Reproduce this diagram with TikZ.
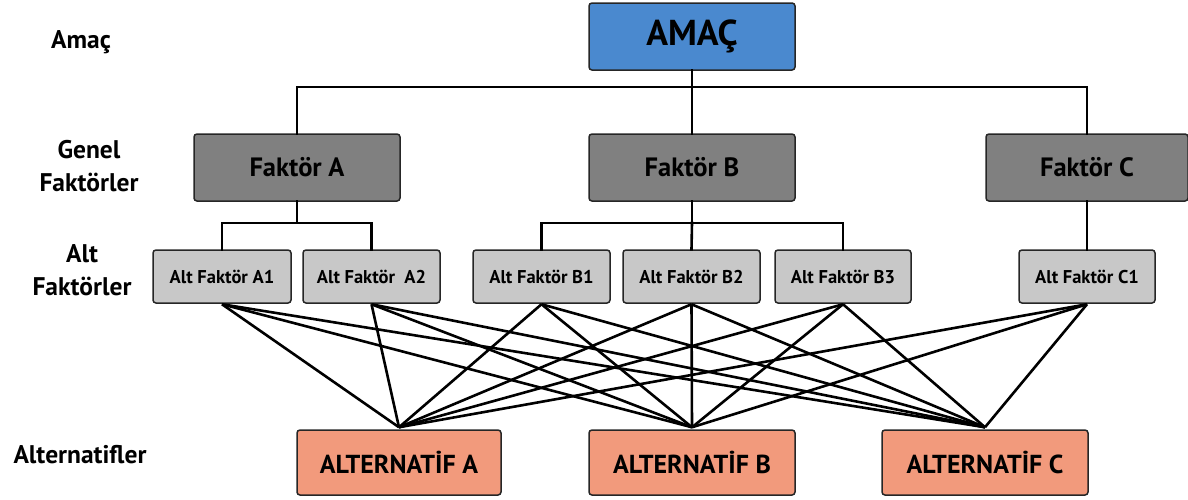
\documentclass[tikz,border=0pt]{standalone}
\usepackage{fontspec}
\setmainfont{PT Sans}
\definecolor{goalblue}{HTML}{4A89CF}
\definecolor{facgray}{HTML}{808080}
\definecolor{subgray}{HTML}{C8C8C8}
\definecolor{altsalmon}{HTML}{F29A7C}
\definecolor{edgedark}{HTML}{262626}
\begin{document}
\begin{tikzpicture}[x=1pt,y=-1pt,
  box/.style={draw=edgedark,line width=1.5pt,rounded corners=3pt,inner sep=0pt,font=\bfseries},
  goalbox/.style={box,fill=goalblue,minimum width=206pt,minimum height=67pt,font=\bfseries\fontsize{36}{40}\selectfont},
  facbox/.style={box,fill=facgray,minimum width=206pt,minimum height=67pt,font=\bfseries\fontsize{26.5}{30}\selectfont},
  subbox/.style={box,fill=subgray,minimum width=137pt,minimum height=53pt,font=\bfseries\fontsize{18.5}{22}\selectfont},
  altbox/.style={box,fill=altsalmon,minimum width=205pt,minimum height=65pt,font=\bfseries\fontsize{26}{30}\selectfont},
  lvl/.style={align=center,font=\bfseries\fontsize{25.5}{33}\selectfont},
  tree/.style={line width=2.6pt,line cap=rect},
  link/.style={line width=2.6pt}]
\useasboundingbox (0,0) rectangle (1188,499);
% level labels
\node[lvl] (l1) at (81,42) {Amaç};
\node[lvl] (l2) at (89,166) {Genel\\Faktörler};
\node[lvl] (l3) at (82,270) {Alt\\Faktörler};
\node[lvl] (l4) at (80,455) {Alternatifler};
% nodes
\node[goalbox] (amac) at (692,36.5) {AMAÇ};
\node[facbox] (fA) at (297,167.5) {Faktör A};
\node[facbox] (fB) at (692,167.5) {Faktör B};
\node[facbox,minimum width=202pt] (fC) at (1087,167.5) {Faktör C};
\node[subbox,minimum width=138pt] (a1) at (222,276.5) {Alt Faktör A1};
\node[subbox] (a2) at (371.5,276.5) {Alt Faktör\ \ A2};
\node[subbox] (b1) at (541.5,276.5) {Alt Faktör B1};
\node[subbox] (b2) at (691.5,276.5) {Alt Faktör B2};
\node[subbox,minimum width=136pt] (b3) at (843,276.5) {Alt Faktör B3};
\node[subbox,minimum width=136pt] (c1) at (1087,276.5) {Alt Faktör C1};
\node[altbox,minimum width=204pt] (xA) at (399,462.5) {ALTERNATİF A};
\node[altbox,minimum width=206pt] (xB) at (692,462.5) {ALTERNATİF B};
\node[altbox,minimum width=206pt] (xC) at (985,462.5) {ALTERNATİF C};
% bus coordinates
\coordinate (busT) at (692,87);
\coordinate (busA) at (297,223);
\coordinate (busB) at (692,223);
% tree connectors
\draw[tree] (amac.south) -- (busT);
\draw[tree] (fA.north) |- (busT);
\draw[tree] (fC.north) |- (busT);
\draw[tree] (fB.north) -- (fB.north |- busT);
\draw[tree] (fA.south) -- (busA);
\draw[tree] (a1.north) |- (busA) -| (a2.north);
\draw[tree] (fB.south) -- (busB);
\draw[tree] (b1.north) |- (busB) -| (b3.north);
\draw[tree] (b2.north) -- (busB);
\draw[tree] (fC.south) -- (c1.north);
% convergence points
\coordinate (pA) at ([yshift=2pt]xA.north);
\coordinate (pB) at ([yshift=2pt]xB.north);
\coordinate (pC) at ([yshift=2pt]xC.north);
% all sub-factors to all alternatives
\foreach \s in {a1,a2,b1,b2,b3,c1}{
  \foreach \t in {pA,pB,pC}{
    \draw[link] ([yshift=-0.5pt]\s.south) -- (\t);
  }
}
\end{tikzpicture}
\end{document}
